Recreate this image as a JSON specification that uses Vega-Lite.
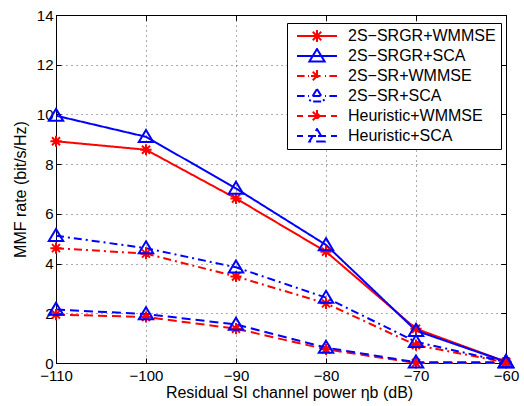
{
  "$schema": "https://vega.github.io/schema/vega-lite/v6.json",
  "width": 450,
  "height": 348,
  "autosize": {"type": "none"},
  "padding": {"left": 56, "top": 15, "right": 18, "bottom": 43},
  "background": "white",
  "config": {
    "font": "Liberation Sans",
    "view": {"stroke": "black", "strokeWidth": 1},
    "axis": {
      "domainColor": "black",
      "tickColor": "black",
      "labelColor": "black",
      "titleColor": "black",
      "labelFontSize": 15,
      "titleFontSize": 16,
      "titleFontWeight": "normal",
      "labelFont": "Liberation Sans",
      "titleFont": "Liberation Sans"
    },
    "legend": {
      "labelFont": "Liberation Sans",
      "labelFontSize": 16,
      "labelColor": "black",
      "symbolSize": 1600,
      "symbolStrokeWidth": 2,
      "symbolOpacity": 1,
      "symbolFillColor": "transparent",
      "symbolOffset": 4,
      "labelOffset": 10,
      "rowPadding": 4,
      "padding": 5,
      "clipHeight": 16
    }
  },
  "data": {
    "values": [
      {"series": "2S−SRGR+WMMSE", "x": -110, "y": 8.92},
      {"series": "2S−SRGR+WMMSE", "x": -100, "y": 8.58},
      {"series": "2S−SRGR+WMMSE", "x": -90, "y": 6.62},
      {"series": "2S−SRGR+WMMSE", "x": -80, "y": 4.48},
      {"series": "2S−SRGR+WMMSE", "x": -70, "y": 1.38},
      {"series": "2S−SRGR+WMMSE", "x": -60, "y": 0.05},
      {"series": "2S−SRGR+SCA", "x": -110, "y": 9.95},
      {"series": "2S−SRGR+SCA", "x": -100, "y": 9.1},
      {"series": "2S−SRGR+SCA", "x": -90, "y": 7.02},
      {"series": "2S−SRGR+SCA", "x": -80, "y": 4.75},
      {"series": "2S−SRGR+SCA", "x": -70, "y": 1.3},
      {"series": "2S−SRGR+SCA", "x": -60, "y": 0.05},
      {"series": "2S−SR+WMMSE", "x": -110, "y": 4.62},
      {"series": "2S−SR+WMMSE", "x": -100, "y": 4.4},
      {"series": "2S−SR+WMMSE", "x": -90, "y": 3.48},
      {"series": "2S−SR+WMMSE", "x": -80, "y": 2.4},
      {"series": "2S−SR+WMMSE", "x": -70, "y": 0.72},
      {"series": "2S−SR+WMMSE", "x": -60, "y": 0.03},
      {"series": "2S−SR+SCA", "x": -110, "y": 5.12},
      {"series": "2S−SR+SCA", "x": -100, "y": 4.62},
      {"series": "2S−SR+SCA", "x": -90, "y": 3.85},
      {"series": "2S−SR+SCA", "x": -80, "y": 2.63},
      {"series": "2S−SR+SCA", "x": -70, "y": 0.85},
      {"series": "2S−SR+SCA", "x": -60, "y": 0.04},
      {"series": "Heuristic+WMMSE", "x": -110, "y": 1.95},
      {"series": "Heuristic+WMMSE", "x": -100, "y": 1.85},
      {"series": "Heuristic+WMMSE", "x": -90, "y": 1.38},
      {"series": "Heuristic+WMMSE", "x": -80, "y": 0.55},
      {"series": "Heuristic+WMMSE", "x": -70, "y": 0.0},
      {"series": "Heuristic+WMMSE", "x": -60, "y": 0.0},
      {"series": "Heuristic+SCA", "x": -110, "y": 2.15},
      {"series": "Heuristic+SCA", "x": -100, "y": 1.97},
      {"series": "Heuristic+SCA", "x": -90, "y": 1.55},
      {"series": "Heuristic+SCA", "x": -80, "y": 0.62},
      {"series": "Heuristic+SCA", "x": -70, "y": 0.03},
      {"series": "Heuristic+SCA", "x": -60, "y": 0.03}
    ]
  },
  "encoding": {
    "x": {
      "field": "x",
      "type": "quantitative",
      "scale": {"domain": [-110, -60], "nice": false, "zero": false}
    },
    "y": {
      "field": "y",
      "type": "quantitative",
      "scale": {"domain": [0, 14], "nice": false}
    },
    "color": {
      "field": "series",
      "type": "nominal",
      "sort": ["2S−SRGR+WMMSE", "2S−SRGR+SCA", "2S−SR+WMMSE", "2S−SR+SCA", "Heuristic+WMMSE", "Heuristic+SCA"],
      "scale": {
        "domain": ["2S−SRGR+WMMSE", "2S−SRGR+SCA", "2S−SR+WMMSE", "2S−SR+SCA", "Heuristic+WMMSE", "Heuristic+SCA"],
        "range": ["#ff0000", "#0000ff", "#ff0000", "#0000ff", "#ff0000", "#0000ff"]
      },
      "legend": {
        "title": null,
        "orient": "none",
        "legendX": 231,
        "legendY": 8,
        "direction": "vertical",
        "fillColor": "white",
        "strokeColor": "black"
      }
    }
  },
  "layer": [
    {
      "mark": {"type": "line", "strokeWidth": 2},
      "encoding": {
        "strokeDash": {
          "field": "series",
          "type": "nominal",
          "scale": {
            "domain": ["2S−SRGR+WMMSE", "2S−SRGR+SCA", "2S−SR+WMMSE", "2S−SR+SCA", "Heuristic+WMMSE", "Heuristic+SCA"],
            "range": [[1, 0], [1, 0], [8, 4, 2, 4], [8, 4, 2, 4], [9, 5], [9, 5]]
          },
          "legend": null
        },
        "x": {
          "field": "x",
          "type": "quantitative",
          "axis": {
            "orient": "bottom",
            "title": "Residual SI channel power ηb (dB)",
            "titleX": 233,
            "values": [-110, -100, -90, -80, -70, -60],
            "format": "d",
            "labelExpr": "replace(datum.label, '-', '−')",
            "labelFlush": false,
            "tickSize": -5,
            "labelPadding": 10,
            "titlePadding": 1,
            "grid": true,
            "gridDash": [1, 4],
            "gridColor": "#333",
            "gridOpacity": 0.8
          }
        },
        "y": {
          "field": "y",
          "type": "quantitative",
          "axis": {
            "orient": "left",
            "title": "MMF rate (bit/s/Hz)",
            "values": [0, 2, 4, 6, 8, 10, 12, 14],
            "labelFlush": false,
            "tickSize": -5,
            "labelPadding": 8,
            "titlePadding": 8,
            "grid": true,
            "gridDash": [1, 4],
            "gridColor": "#333",
            "gridOpacity": 0.8
          }
        }
      }
    },
    {
      "transform": [{"filter": "indexof(datum.series, 'WMMSE') >= 0"}],
      "mark": {
        "type": "point",
        "filled": false,
        "strokeWidth": 2,
        "size": 256,
        "opacity": 1,
        "shape": "M-0.7,0L0.7,0M0,-0.7L0,0.7M-0.5,-0.5L0.5,0.5M-0.5,0.5L0.5,-0.5"
      },
      "encoding": {
        "x": {
          "field": "x",
          "type": "quantitative",
          "axis": {
            "orient": "top",
            "title": null,
            "labels": false,
            "values": [-110, -100, -90, -80, -70, -60],
            "tickSize": -5,
            "grid": false
          }
        },
        "y": {
          "field": "y",
          "type": "quantitative",
          "axis": {
            "orient": "right",
            "title": null,
            "labels": false,
            "values": [0, 2, 4, 6, 8, 10, 12, 14],
            "tickSize": -5,
            "grid": false
          }
        }
      }
    },
    {
      "transform": [{"filter": "indexof(datum.series, 'SCA') >= 0"}],
      "mark": {
        "type": "point",
        "filled": false,
        "strokeWidth": 2,
        "size": 256,
        "opacity": 1,
        "shape": "M0,-0.85L0.9,0.65L-0.9,0.65Z"
      },
      "encoding": {
        "x": {
          "field": "x",
          "type": "quantitative",
          "axis": {
            "orient": "top",
            "title": null,
            "labels": false,
            "values": [-110, -100, -90, -80, -70, -60],
            "tickSize": -5,
            "grid": false
          }
        },
        "y": {
          "field": "y",
          "type": "quantitative",
          "axis": {
            "orient": "right",
            "title": null,
            "labels": false,
            "values": [0, 2, 4, 6, 8, 10, 12, 14],
            "tickSize": -5,
            "grid": false
          }
        }
      }
    },
    {
      "transform": [{"filter": "false"}],
      "mark": {"type": "point", "filled": false, "strokeWidth": 2},
      "encoding": {
        "shape": {
          "field": "series",
          "type": "nominal",
          "scale": {
            "domain": ["2S−SRGR+WMMSE", "2S−SRGR+SCA", "2S−SR+WMMSE", "2S−SR+SCA", "Heuristic+WMMSE", "Heuristic+SCA"],
            "range": [
              "M-1,0L1,0M-0.3,0L0.3,0M0,-0.3L0,0.3M-0.21,-0.21L0.21,0.21M-0.21,0.21L0.21,-0.21",
              "M-1,0L1,0M0,-0.35L0.38,0.27L-0.38,0.27Z",
              "M-1,0L-0.62,0M-0.45,0L-0.4,0M-0.22,0L0.22,0M0.4,0L0.45,0M0.62,0L1,0M-0.3,0L0.3,0M0,-0.3L0,0.3M-0.21,-0.21L0.21,0.21M-0.21,0.21L0.21,-0.21",
              "M-1,0L-0.62,0M-0.45,0L-0.4,0M-0.22,0L0.22,0M0.4,0L0.45,0M0.62,0L1,0M0,-0.35L0.38,0.27L-0.38,0.27Z",
              "M-1,0L-0.7,0M-0.45,0L-0.05,0M0.05,0L0.45,0M0.7,0L1,0M-0.3,0L0.3,0M0,-0.3L0,0.3M-0.21,-0.21L0.21,0.21M-0.21,0.21L0.21,-0.21",
              "M-1,0L-0.7,0M-0.45,0L-0.05,0M0.05,0L0.45,0M0.7,0L1,0M0,-0.35L0.38,0.27L-0.38,0.27Z"
            ]
          },
          "legend": {
            "title": null,
            "orient": "none",
            "legendX": 231,
            "legendY": 8,
            "direction": "vertical",
            "fillColor": "white",
            "strokeColor": "black"
          }
        },
        "x": {
          "field": "x",
          "type": "quantitative",
          "axis": {
            "orient": "top",
            "title": null,
            "labels": false,
            "values": [-110, -100, -90, -80, -70, -60],
            "tickSize": -5,
            "grid": false
          }
        },
        "y": {
          "field": "y",
          "type": "quantitative",
          "axis": {
            "orient": "right",
            "title": null,
            "labels": false,
            "values": [0, 2, 4, 6, 8, 10, 12, 14],
            "tickSize": -5,
            "grid": false
          }
        }
      }
    }
  ]
}
